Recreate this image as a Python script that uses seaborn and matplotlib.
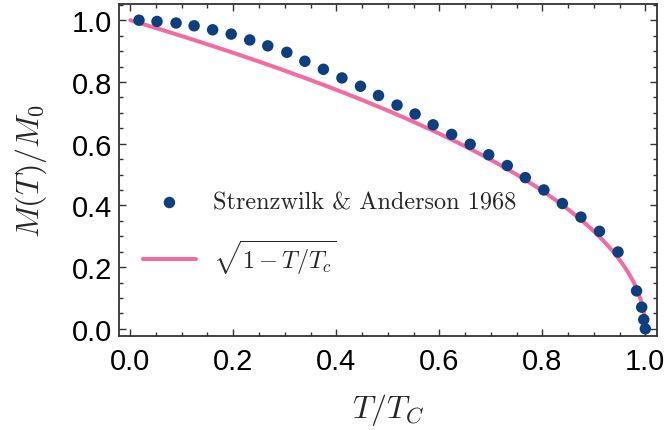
import numpy as np
import pandas as pd
import matplotlib
matplotlib.use("Agg")
import matplotlib.pyplot as plt
import seaborn as sns
from matplotlib.ticker import MultipleLocator

# Data (Strenzwilk & Anderson 1968)
t_data = [0.017, 0.052, 0.089, 0.124, 0.160, 0.196, 0.232, 0.267, 0.304, 0.339,
          0.375, 0.411, 0.447, 0.482, 0.518, 0.553, 0.588, 0.624, 0.660, 0.696,
          0.732, 0.767, 0.803, 0.839, 0.875, 0.911, 0.947, 0.983, 0.993, 0.997, 1.0]
m_data = [1.000, 0.996, 0.991, 0.982, 0.969, 0.955, 0.936, 0.917, 0.896, 0.867,
          0.841, 0.813, 0.786, 0.756, 0.725, 0.696, 0.661, 0.630, 0.598, 0.564,
          0.529, 0.490, 0.450, 0.406, 0.362, 0.316, 0.249, 0.123, 0.070, 0.030, 0.0]

x_ticks = [0.0, 0.2, 0.4, 0.6, 0.8, 1.0]
y_ticks = [0.0, 0.2, 0.4, 0.6, 0.8, 1.0]

# Theory curve sqrt(1 - T/Tc)
t_fit = np.concatenate([np.linspace(0, 0.99, 400), np.linspace(0.99, 1.0, 200)])
m_fit = np.sqrt(np.clip(1 - t_fit, 0, None))

df_data = pd.DataFrame({"T": t_data, "M": m_data})
df_fit = pd.DataFrame({"T": t_fit, "M": m_fit})

sns.set_theme(style="ticks")
plt.rcParams["font.family"] = ["Liberation Sans", "DejaVu Sans"]
plt.rcParams["mathtext.fontset"] = "cm"

BLUE = "#0C3F80"
PINK = "#F46BA2"

fig = plt.figure(figsize=(6.68, 4.31), dpi=100)
ax = fig.add_axes([0.178, 0.219, 0.805, 0.769])

sns.lineplot(data=df_fit, x="T", y="M", ax=ax, color=PINK, linewidth=2.9,
             label=r"$\sqrt{1-T/T_c}$", zorder=2)
sns.scatterplot(data=df_data, x="T", y="M", ax=ax, color=BLUE, s=68,
                edgecolor="none", label="Strenzwilk & Anderson 1968",
                zorder=3)

ax.set_xlim(-0.022, 1.022)
ax.set_ylim(-0.022, 1.052)
ax.set_xticks(x_ticks)
ax.set_yticks(y_ticks)
ax.set_xticklabels([f"{v:.1f}" for v in x_ticks])
ax.set_yticklabels([f"{v:.1f}" for v in y_ticks])
ax.xaxis.set_minor_locator(MultipleLocator(0.05))
ax.yaxis.set_minor_locator(MultipleLocator(0.05))
ax.tick_params(which="both", direction="in", top=True, right=True,
               colors="#333333", labelcolor="black", width=1.0)
ax.tick_params(which="major", length=5, labelsize=21)
ax.tick_params(axis="x", which="major", pad=8)
ax.tick_params(axis="y", which="major", pad=5)
ax.tick_params(which="minor", length=3)
for s in ax.spines.values():
    s.set_color("#333333")
    s.set_linewidth(1.3)

ax.set_xlabel(r"$T/T_C$", fontsize=23, labelpad=12)
ax.set_ylabel(r"$M(T)/M_0$", fontsize=23, labelpad=16)

h, l = ax.get_legend_handles_labels()
leg = ax.legend([h[1], h[0]], [l[1], l[0]], loc="upper left",
                bbox_to_anchor=(0.004, 0.50), frameon=False,
                prop={"family": "cmr10", "size": 17.5},
                handlelength=2.18, labelspacing=0.95, handletextpad=0.7)

fig.savefig("out.png", dpi=100)
